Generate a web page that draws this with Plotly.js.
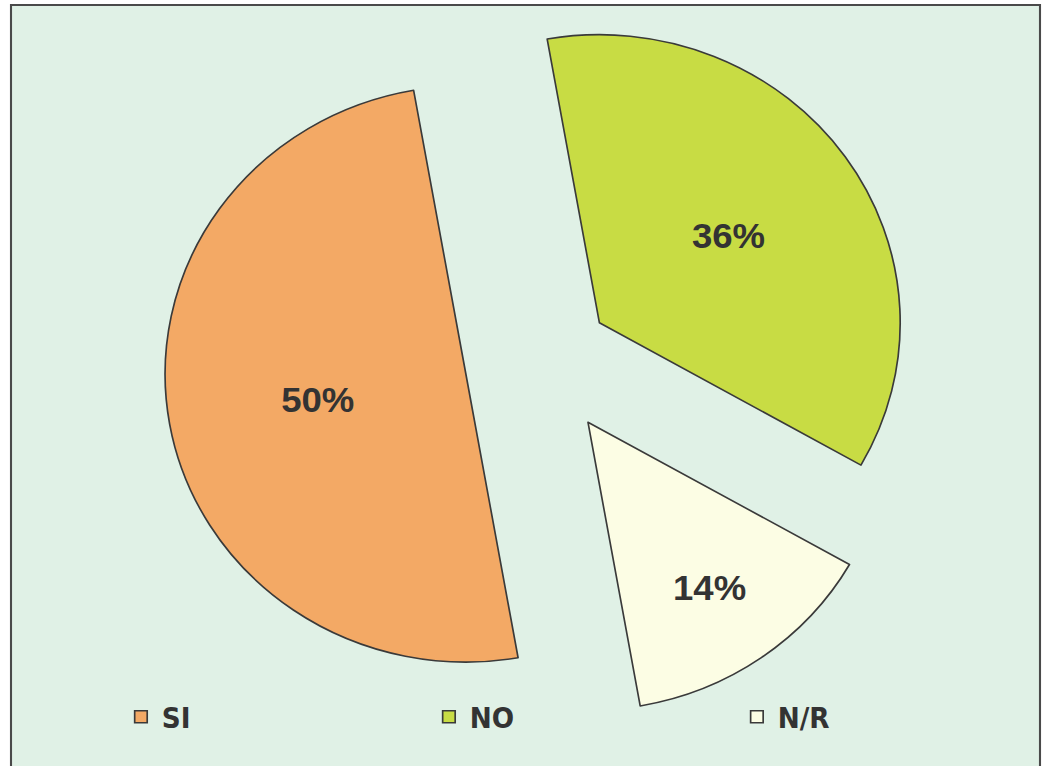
<!DOCTYPE html>
<html><head><meta charset="utf-8">
<script src="https://cdn.plot.ly/plotly-3.0.1.min.js"></script>
<style>
html,body{margin:0;padding:0;background:#fff;width:1044px;height:766px;overflow:hidden;position:relative}
#chart{position:absolute;left:0;top:-20px;width:1000px;height:806px;transform:scaleX(1.044);transform-origin:0 0}
</style>
</head><body><div id="chart"></div>
<script>
const categories = ['SI', 'NO', 'N/R'];
const values = [50, 36, 14];
const sliceColors = ['#f3a965', '#c8dc44', '#fcfde4'];
const pulls = [0.26, 0.23, 0.26];

const trace = {
  type: 'pie',
  labels: categories,
  values: values,
  sort: false,
  direction: 'clockwise',
  rotation: 170,
  pull: pulls,
  marker: {colors: sliceColors, line: {color: '#3a3a3a', width: 1.6}},
  textinfo: 'percent',
  textposition: 'inside',
  insidetextorientation: 'horizontal',
  textfont: {family: 'Liberation Sans, Arial, sans-serif', size: 35, color: '#333333', weight: 'bold'},
  domain: {x: [0.15, 0.89], y: [0.0769, 0.9777]},
  hoverinfo: 'label+percent'
};

const layout = {
  width: 1000, height: 806, autosize: false,
  margin: {l: 0, r: 0, t: 0, b: 0, pad: 0},
  paper_bgcolor: '#ffffff',
  showlegend: true,
  legend: {
    orientation: 'h', x: 0.115, xanchor: 'left', y: 0.0856, yanchor: 'middle',
    entrywidth: 250, entrywidthmode: 'pixels',
    bgcolor: 'rgba(0,0,0,0)',
    font: {family: 'Liberation Sans Narrow, DejaVu Sans Condensed, Arial, sans-serif', size: 28, color: '#333333', weight: 'bold'}
  },
  shapes: [{
    type: 'rect', xref: 'paper', yref: 'paper', layer: 'below',
    x0: 11/1044, x1: 1040/1044, y0: -0.05, y1: 1 - 25/806,
    line: {color: '#4a4a4a', width: 2}, fillcolor: '#e0f1e6'
  }]
};

Plotly.newPlot('chart', [trace], layout, {displayModeBar: false, staticPlot: true});
</script>
</body></html>
